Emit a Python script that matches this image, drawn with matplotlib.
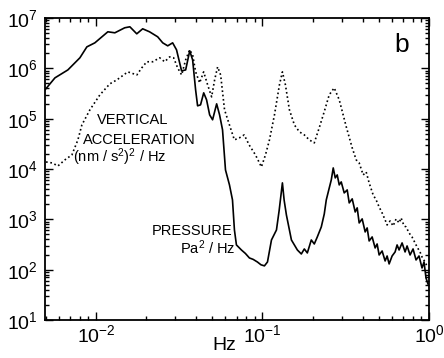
import matplotlib
matplotlib.use("Agg")
import matplotlib.pyplot as plt
from matplotlib.ticker import LogLocator, FixedLocator, NullFormatter

plt.rcParams['font.family'] = ['Liberation Sans', 'DejaVu Sans']
plt.rcParams['mathtext.fontset'] = 'custom'
plt.rcParams['mathtext.rm'] = 'Liberation Sans'
plt.rcParams['mathtext.it'] = 'Liberation Sans:italic'
plt.rcParams['mathtext.bf'] = 'Liberation Sans:bold'

# Pressure spectrum (Pa^2/Hz)
pres_freq = [0.00495, 0.00568, 0.00679, 0.00802, 0.00883, 0.00986, 0.0118, 0.0130,
             0.0149, 0.0160, 0.0176, 0.0191, 0.0210, 0.0235, 0.0252, 0.0270, 0.0289,
             0.0305, 0.0327, 0.0346, 0.0366, 0.0381, 0.0397, 0.0408, 0.0425, 0.0444,
             0.0462, 0.0482, 0.0502, 0.0531, 0.0553, 0.0576, 0.0600, 0.0634, 0.0661,
             0.0679, 0.0698, 0.0748, 0.0790, 0.0835, 0.0880, 0.0933, 0.0980, 0.1028,
             0.1072, 0.1133, 0.1214, 0.1260, 0.1318, 0.1350, 0.1393, 0.1493,
             0.1621, 0.1712, 0.1784, 0.1860, 0.1965, 0.2048, 0.2135, 0.2256, 0.2351,
             0.2417, 0.2519, 0.2590, 0.2661, 0.2736, 0.2812, 0.2891, 0.2972, 0.3097,
             0.3228, 0.3319, 0.3459, 0.3605, 0.3706, 0.3809, 0.3970, 0.4138, 0.4253,
             0.4372, 0.4557, 0.4749, 0.4882, 0.5019, 0.5231, 0.5452, 0.5605, 0.5762,
             0.6005, 0.6259, 0.6434, 0.6614, 0.6894, 0.7184, 0.7386, 0.7697, 0.8022,
             0.8360, 0.8711, 0.9080, 0.9335, 0.9594, 0.9862]
pres_psd = [3.74e5, 6.47e5, 9.3e5, 1.62e6, 2.67e6, 3.21e6, 5.32e6, 5.08e6,
            6.39e6, 6.69e6, 4.85e6, 6.1e6, 5.32e6, 4.23e6, 3.21e6, 2.80e6, 3.21e6,
            2.33e6, 8.9e5, 9.3e5, 2.23e6, 1.47e6, 3.74e5, 1.80e5, 1.88e5, 3.26e5,
            2.37e5, 1.19e5, 9.5e4, 1.97e5, 1.19e5, 6.0e4, 9.6e3, 4.83e3, 2.43e3,
            615, 310, 246, 210, 171, 160, 142, 125, 119,
            142, 389, 615, 1.5e3, 5.3e3, 2.4e3, 1.22e3, 389,
            246, 205, 258, 215, 389, 324, 447, 706, 1.28e3,
            2.43e3, 4.21e3, 6.07e3, 1.05e4, 6.65e3, 7.63e3, 4.83e3, 5.54e3, 3.35e3,
            3.84e3, 2.12e3, 2.55e3, 1.40e3, 1.69e3, 848, 1.02e3, 562, 675,
            372, 447, 270, 324, 196, 235, 149, 187, 130,
            187, 225, 310, 246, 340, 225, 296, 196, 258,
            156, 187, 108, 142, 68.4, 52.0]

# Vertical acceleration spectrum ((nm/s^2)^2/Hz)
acc_freq = [0.00502, 0.00546, 0.00592, 0.00652, 0.00718, 0.00780, 0.00824, 0.00921,
            0.01057, 0.01213, 0.01337, 0.01555, 0.01762, 0.01885, 0.02020, 0.02193,
            0.02416, 0.02589, 0.02773, 0.02931, 0.03097, 0.03273, 0.03459, 0.03656,
            0.03811, 0.03972, 0.04198, 0.04436, 0.04688, 0.04954, 0.05164, 0.05383,
            0.05611, 0.05922, 0.06339, 0.06785, 0.07263, 0.07774, 0.08321, 0.09078,
            0.09859, 0.1043, 0.1102, 0.1181, 0.1265, 0.1318, 0.1374, 0.1452, 0.1556,
            0.1667, 0.1784, 0.1911, 0.2047, 0.2193, 0.2349, 0.2517, 0.2697, 0.2891,
            0.3186, 0.3459, 0.3655, 0.3809, 0.4025, 0.4195, 0.4372, 0.4621, 0.4815,
            0.5019, 0.5231, 0.5452, 0.5605, 0.5842, 0.6089, 0.6346, 0.6614, 0.6798,
            0.7085, 0.7284, 0.7591, 0.7907, 0.8245, 0.8475, 0.8833, 0.9080, 0.9463,
            0.9727]
acc_psd = [1.38e4, 1.32e4, 1.15e4, 1.52e4, 1.91e4, 3.79e4, 7.5e4, 1.50e5,
           2.97e5, 4.92e5, 5.9e5, 8.5e5, 7.4e5, 1.02e6, 1.35e6, 1.35e6,
           1.62e6, 1.35e6, 1.69e6, 1.62e6, 1.02e6, 7.4e5, 1.47e6, 2.33e6,
           1.85e6, 8.5e5, 5.15e5, 8.5e5, 4.7e5, 2.71e5, 5.9e5, 1.07e6,
           7.4e5, 1.50e5, 7.5e4, 3.79e4, 4.15e4, 4.76e4, 3.01e4, 1.91e4,
           1.10e4, 1.91e4, 3.79e4, 1.19e5, 4.7e5, 8.5e5, 4.7e5, 1.50e5, 7.5e4,
           5.47e4, 4.76e4, 3.79e4, 3.30e4, 6.6e4, 1.37e5, 2.97e5, 4.09e5, 2.37e5,
           6.9e4, 2.63e4, 1.52e4, 1.32e4, 7.63e3, 8.75e3, 5.29e3, 3.06e3, 2.43e3,
           1.76e3, 1.34e3, 973, 774, 929, 739, 1.02e3, 848, 1.07e3,
           739, 706, 537, 447, 340, 283, 225, 179, 142,
           118]

x_ticks = [1e-2, 1e-1, 1e0]
x_tick_labels = [r'$10^{-2}$', r'$10^{-1}$', r'$10^{0}$']
y_ticks = [1e1, 1e2, 1e3, 1e4, 1e5, 1e6, 1e7]
y_tick_labels = [r'$10^{%d}$' % k for k in range(1, 8)]

W, H = 444, 358
fig = plt.figure(figsize=(W / 100, H / 100), dpi=100)
ax = fig.add_axes([45 / W, 1 - 320 / H, 384 / W, 302 / H])

ax.plot(pres_freq, pres_psd, color='black', lw=1.2)
ax.plot(acc_freq, acc_psd, color='black', lw=1.2, linestyle=(0, (1, 1.6)))

ax.set_xscale('log')
ax.set_yscale('log')
ax.set_xlim(0.00495, 1.0)
ax.set_ylim(1e1, 1e7)

ax.xaxis.set_major_locator(FixedLocator(x_ticks))
ax.set_xticklabels(x_tick_labels)
ax.yaxis.set_major_locator(FixedLocator(y_ticks))
ax.set_yticklabels(y_tick_labels)
ax.xaxis.set_minor_locator(LogLocator(base=10, subs=range(2, 10)))
ax.yaxis.set_minor_locator(LogLocator(base=10, subs=range(2, 10)))
ax.xaxis.set_minor_formatter(NullFormatter())
ax.yaxis.set_minor_formatter(NullFormatter())

ax.tick_params(which='both', direction='in', top=True, right=True, width=1.0,
               labelsize=14)
ax.tick_params(which='major', length=6)
ax.tick_params(axis='x', which='major', pad=3)
ax.tick_params(axis='y', which='major', pad=5)
ax.tick_params(which='minor', length=3)
for sp in ax.spines.values():
    sp.set_linewidth(1.3)


def put(px, py, s, **kw):
    fig.text(px / W, 1 - py / H, s, ha='center', va='center', **kw)


put(224, 345, 'Hz', fontsize=14)
put(402, 45, 'b', fontsize=19)
put(133, 120, 'VERTICAL', fontsize=10.5)
put(139, 140, 'ACCELERATION', fontsize=10.5)
put(120, 157, r'(nm / s$^{2}$)$^{2}$ / Hz', fontsize=10.5)
put(192, 231, 'PRESSURE', fontsize=10.5)
put(208, 248, r'Pa$^{2}$ / Hz', fontsize=10.5)

fig.savefig('out.png', dpi=100)
